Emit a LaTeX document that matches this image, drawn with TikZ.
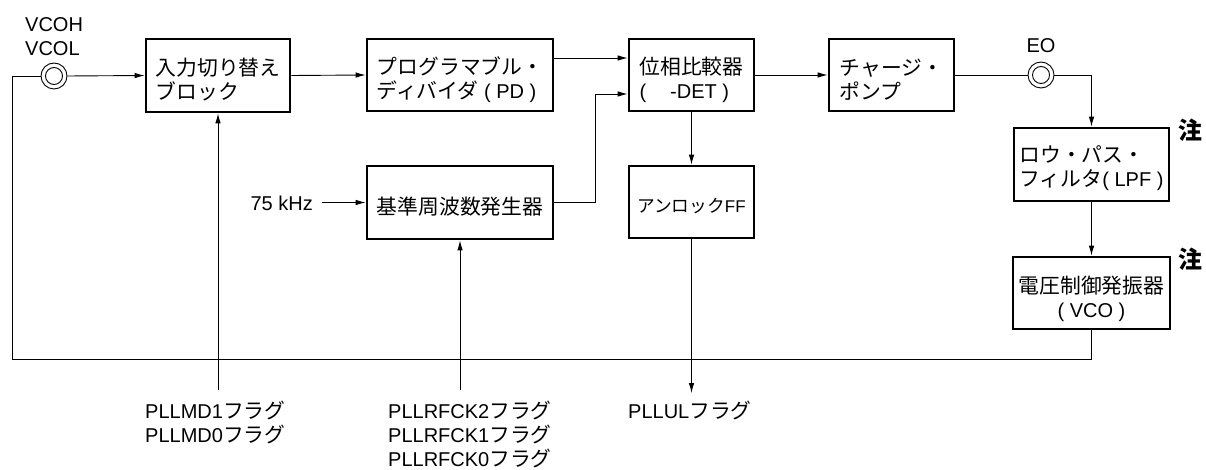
\documentclass[tikz,border=0pt]{standalone}
\usepackage{fontspec}
\setmainfont{Liberation Sans}
\newfontfamily\jpf{Noto Sans CJK JP}[Scale=1.04]
\newcommand{\J}[1]{{\jpf #1}}
\usetikzlibrary{arrows.meta}
\begin{document}
\begin{tikzpicture}[x=1pt,y=-1pt,
  box/.style={draw,line width=2.7pt,inner sep=0pt},
  btxt/.style={inner sep=0pt,align=left,font=\fontsize{20}{24}\selectfont},
  btxc/.style={btxt,align=center},
  conn/.style={line width=0.9pt},
  arr/.style={conn,-{Latex[length=10pt,width=5.5pt]}},
  lbl/.style={inner sep=0pt,font=\fontsize{20}{24}\selectfont,align=left},
  note/.style={inner sep=0pt,font=\fontsize{23}{24}\selectfont\jpf\bfseries},
  term/.style={draw,circle,line width=0.9pt,inner sep=0pt}]
\useasboundingbox (0,0) rectangle (1206,470);

% boxes
\node[box,minimum width=144pt,minimum height=73pt] (b1) at (218,75.5) {};
\node[box,minimum width=186pt,minimum height=72pt] (b2) at (460,75) {};
\node[box,minimum width=125pt,minimum height=72pt] (b3) at (691.5,75) {};
\node[box,minimum width=125pt,minimum height=72pt] (b4) at (891.5,75) {};
\node[box,minimum width=186pt,minimum height=73pt] (ref) at (460,202.5) {};
\node[box,minimum width=125pt,minimum height=72pt] (ul) at (691.5,202) {};
\node[box,minimum width=155pt,minimum height=73pt] (lpf) at (1091.5,164.5) {};
\node[box,minimum width=157pt,minimum height=72pt] (vco) at (1091.5,293) {};

% box texts
\node[btxt] (t1) at ([yshift=-4.5pt]b1.center) {\J{入力切り替え}\\\J{ブロック}};
\node[btxt] (t2) at ([yshift=-4.5pt]b2.center) {\J{プログラマブル・}\\\J{ディバイダ} ( PD )};
\node[btxt] (t3) at ([yshift=-4.5pt]b3.center) {\J{位相比較器}\\(\hspace{24pt}-DET )};
\node[btxt] (t4) at ([yshift=-4.5pt]b4.center) {\J{チャージ・}\\\J{ポンプ}};
\node[btxc] (tref) at ([yshift=-4.5pt]ref.center) {\J{基準周波数発生器}};
\node[btxc,font=\fontsize{17}{20}\selectfont] (tul) at ([yshift=-4pt]ul.center) {\J{アンロック}FF};
\node[btxt] (tlpf) at ([yshift=-4pt]lpf.center) {\J{ロウ・パス・}\\\J{フィルタ}( LPF )};
\node[btxc] (tvco) at ([yshift=-6pt]vco.center) {\J{電圧制御発振器}\\( VCO )};

% terminals
\node[term,minimum size=26pt] (vin) at (54,76) {};
\node[term,minimum size=17pt] (vin2) at (54,76) {};
\node[term,minimum size=26pt] (eo) at (1041,75) {};
\node[term,minimum size=17pt] (eo2) at (1041,75) {};

% labels
\node[lbl,anchor=west] (vlab) at (25,36.5) {VCOH\\VCOL};
\node[lbl] (eolab) at (1041,46) {EO};
\node[lbl,anchor=east] (khz) at (313,203) {75 kHz};
\node[note] (n1) at (1190,130) {注};
\node[note] (n2) at (1190,259) {注};
\node[lbl,anchor=west] (mdl) at (145,422.5) {PLLMD1\J{フラグ}\\PLLMD0\J{フラグ}};
\node[lbl,anchor=west] (rfl) at (388,434.5) {PLLRFCK2\J{フラグ}\\PLLRFCK1\J{フラグ}\\PLLRFCK0\J{フラグ}};
\node[lbl,anchor=west] (ull) at (628,410.5) {PLLUL\J{フラグ}};

% helper coordinates
\coordinate (y58) at (0,58);
\coordinate (y94) at (0,94);
\coordinate (rj1) at (595,202.5);
\coordinate (rj2) at (595,94);
\coordinate (fbr) at (1091.5,359);
\coordinate (fbl) at (12,359);
\coordinate (fbt) at (12,76);
\coordinate (kst) at (322,202.5);
\coordinate (mdb) at (218,390);
\coordinate (rfb) at (460,390);
\coordinate (ulb) at (691.5,393);

% connectors
\draw[conn] (fbt) -- (vin.west);
\draw[arr] (vin.east) -- (b1.west);
\draw[arr] (b1.east) -- (b2.west);
\draw[arr] (b2.east |- y58) -- (b3.west |- y58);
\draw[arr] (ref.east) -- (rj1) -- (rj2) -- (b3.west |- y94);
\draw[arr] (b3.east) -- (b4.west);
\draw[conn] (b4.east) -- (eo.west);
\draw[arr] (eo.east) -| (lpf.north);
\draw[arr] (lpf.south) -- (vco.north);
\draw[conn] (vco.south) -- (fbr) -- (fbl) -- (fbt);
\draw[arr] (b3.south) -- (ul.north);
\draw[arr] (ul.south) -- (ulb);
\draw[arr] (kst) -- (ref.west);
\draw[arr] (mdb) -- (b1.south);
\draw[arr] (rfb) -- (ref.south);
\end{tikzpicture}
\end{document}
